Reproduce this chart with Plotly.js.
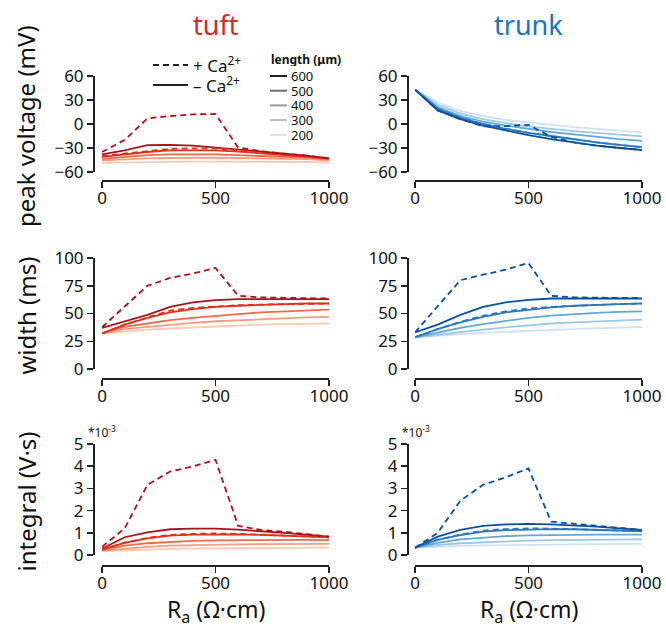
<!DOCTYPE html>
<html><head><meta charset="utf-8">
<script src="https://cdn.plot.ly/plotly-3.0.1.min.js"></script>
<style>html,body{margin:0;padding:0;background:#fff}</style>
</head><body><div id="plot" style="width:666px;height:630px"></div>
<script>
// ---- data ----
const Ra = [0,100,200,300,400,500,600,700,800,900,1000];
const lengths = [600,500,400,300,200];
const tuftColors = ['#a8141c','#e0301e','#f4694a','#f99c80','#fcc9b4'];
const trunkColors = ['#0b4f9a','#2b78bb','#64a7d6','#9dc8e4','#cfe2f3'];
const legendGrays = ['#222222','#6e6e6e','#9a9a9a','#bdbdbd','#dedede'];

// peak voltage (mV), without Ca (solid), by length 600..200
const tuftPeak = [
  [-38,-33,-26.5,-26,-27,-29.5,-31.5,-34,-37,-39.5,-43],
  [-41,-38,-35,-33,-33,-33,-34.5,-36.5,-38.5,-40.5,-43],
  [-43.5,-41,-39,-38,-38,-38,-39,-40,-41,-42,-44],
  [-45.5,-44,-43,-42.5,-42,-42,-42.5,-43,-43.5,-44,-45.5],
  [-48.5,-48,-47.5,-47,-47,-47,-47,-47,-47,-47.5,-48]
];
const tuftPeakCa600 = [-35,-20,7,10,12,12.5,-29.5,-34,-37,-39.5,-43];
const tuftPeakCa500 = [-40,-37,-33.5,-31,-30.5,-30.5,-33,-36,-38.5,-40.5,-43];
const trunkPeak = [
  [43,17,6,-2,-8,-14,-19,-23,-27,-30,-32.5],
  [43,19,8,0,-6,-11,-15,-19,-23,-26,-29],
  [43,21,10,3,-2,-6,-10,-13,-16,-19,-21],
  [43,24,13,6,1,-3,-6,-9,-11,-13.5,-15.5],
  [43,27,16,10,5,2,-1,-4,-6,-8.5,-10.5]
];
const trunkPeakCa600 = [43,17,6,-3,-2.5,-1,-16,-23,-27,-30,-32.5];
const trunkPeakCa500 = [43,19,8,0,-6,-11,-15,-19,-23,-26,-29];

// width (ms)
const tuftWidth = [
  [37,42.7,48.8,56,60,62,63,63,63,63,63],
  [32,40,46,51,54,56,57,58,58.5,59,59],
  [32,38,41,44,46,48,49.5,51,52,53,53.5],
  [32,36,38,40,41.5,43,44,45,46,46.5,47],
  [32,34,35.5,36.5,37.5,38.5,39,40,40.5,41,41]
];
const tuftWidthCa600 = [37.6,56,75,82,86,91,66,64.5,64,63.5,63.5];
const tuftWidthCa500 = [32,40,46.5,52.5,55,56.5,57.5,58,58.5,59,59];
const trunkWidth = [
  [33,40,48.8,56,60,62.3,63.5,63.5,63.5,63.5,63.5],
  [28.6,36,42,47,51,53.5,55.5,57,58,58.5,59],
  [28.6,33,37,40.5,43.5,46,48,49.5,50.5,51.5,52],
  [28.6,31,33.5,35.5,37.5,39.5,41,42,43,44,44.5],
  [28.6,30,31.5,32.5,33.5,34.5,35.3,36,36.7,37.3,37.8]
];
const trunkWidthCa600 = [33,56,80,85,89.5,95.5,66,64.5,64,64,64];
const trunkWidthCa500 = [28.6,36,42.5,48,52,54.5,56,57,58,58.5,59];

// integral (x10^-3 V·s)
const tuftInt = [
  [0.28,0.8,1.02,1.16,1.19,1.19,1.14,1.08,1.0,0.92,0.83],
  [0.25,0.55,0.75,0.87,0.92,0.94,0.93,0.91,0.88,0.85,0.8],
  [0.22,0.42,0.53,0.6,0.64,0.66,0.67,0.68,0.68,0.68,0.67],
  [0.2,0.3,0.37,0.42,0.45,0.47,0.48,0.49,0.49,0.5,0.5],
  [0.18,0.22,0.26,0.28,0.3,0.31,0.32,0.32,0.33,0.33,0.33]
];
const tuftIntCa600 = [0.37,1.2,3.16,3.76,3.99,4.29,1.31,1.13,1.05,0.95,0.83];
const tuftIntCa500 = [0.25,0.56,0.77,0.9,0.95,0.97,0.95,0.92,0.88,0.85,0.8];
const trunkInt = [
  [0.33,0.83,1.13,1.31,1.38,1.4,1.38,1.34,1.28,1.2,1.13],
  [0.33,0.68,0.9,1.05,1.12,1.16,1.17,1.16,1.14,1.11,1.07],
  [0.33,0.55,0.7,0.79,0.85,0.88,0.9,0.91,0.92,0.92,0.92],
  [0.33,0.45,0.53,0.58,0.62,0.65,0.67,0.68,0.69,0.7,0.7],
  [0.33,0.38,0.41,0.43,0.45,0.46,0.47,0.48,0.49,0.49,0.5]
];
const trunkIntCa600 = [0.33,1.0,2.45,3.16,3.5,3.9,1.5,1.4,1.3,1.2,1.13];
const trunkIntCa500 = [0.33,0.69,0.92,1.1,1.17,1.2,1.19,1.17,1.15,1.12,1.08];

const rowTicks = [[-60,-30,0,30,60],[0,25,50,75,100],[0,1,2,3,4,5]];
const rowRanges = [[-60,60],[0,100],[0,5]];
const xTicks = [0,500,1000];
const rowTitles = ['peak voltage (mV)','width (ms)','integral (V·s)'];
const colTitles = ['tuft','trunk'];
const colTitleColors = ['#d42a2a','#1a75bc'];

// ---- geometry (pixels) ----
const W = 666, H = 630;
const colX = [[102,329],[415,642]];
const colYLine = [93,407];
const rowY = [[76,172],[258,369],[444,555]];
const rowXLine = [180,378,565];

const panels = [
  {solid: tuftPeak, ca: [tuftPeakCa600, tuftPeakCa500], colors: tuftColors},
  {solid: trunkPeak, ca: [trunkPeakCa600, trunkPeakCa500], colors: trunkColors},
  {solid: tuftWidth, ca: [tuftWidthCa600, tuftWidthCa500], colors: tuftColors},
  {solid: trunkWidth, ca: [trunkWidthCa600, trunkWidthCa500], colors: trunkColors},
  {solid: tuftInt, ca: [tuftIntCa600, tuftIntCa500], colors: tuftColors},
  {solid: trunkInt, ca: [trunkIntCa600, trunkIntCa500], colors: trunkColors}
];

const font = '"Noto Sans", "Open Sans", sans-serif';
const traces = [];
const layout = {
  width: W, height: H, margin: {l:0,r:0,t:0,b:0},
  paper_bgcolor: '#fff', plot_bgcolor: 'rgba(0,0,0,0)',
  showlegend: false, font: {family: font, color: '#111', size: 15},
  annotations: [], shapes: []
};

panels.forEach((p, k) => {
  const r = Math.floor(k/2), c = k % 2;
  const id = k === 0 ? '' : String(k+1);
  const xa = 'x'+id, ya = 'y'+id;
  for (let i = lengths.length-1; i >= 0; i--) {
    traces.push({x: Ra, y: p.solid[i], xaxis: xa, yaxis: ya, mode: 'lines',
      line: {color: p.colors[i], width: 1.8}, hoverinfo: 'skip'});
  }
  for (let j = p.ca.length-1; j >= 0; j--) {
    traces.push({x: Ra, y: p.ca[j], xaxis: xa, yaxis: ya, mode: 'lines',
      line: {color: p.colors[j], width: 1.8, dash: '6px,4px'}, hoverinfo: 'skip'});
  }
  const axCommon = {showline: true, linecolor: '#222', linewidth: 1.5, ticks: 'outside',
    ticklen: 6, tickwidth: 1.5, tickcolor: '#222', showgrid: false, zeroline: false,
    tickfont: {size: 17, color: '#111', family: font}, fixedrange: true};
  layout['xaxis'+id] = Object.assign({}, axCommon, {
    domain: [colX[c][0]/W, colX[c][1]/W], range: [0,1000], tickvals: xTicks,
    anchor: 'free', position: 1 - rowXLine[r]/H, ticklabelstandoff: -4});
  layout['yaxis'+id] = Object.assign({}, axCommon, {
    domain: [1 - rowY[r][1]/H, 1 - rowY[r][0]/H], range: rowRanges[r], tickvals: rowTicks[r],
    anchor: 'free', position: colYLine[c]/W});
});

// titles
colTitles.forEach((t, c) => {
  layout.annotations.push({text: t, xref: 'paper', yref: 'paper', x: (colX[c][0]+colX[c][1])/2/W,
    y: 1 - 25/H, showarrow: false, font: {size: 27, color: colTitleColors[c], family: font},
    xanchor: 'center', yanchor: 'middle'});
  layout.annotations.push({text: 'R<sub>a</sub> (Ω·cm)', xref: 'paper', yref: 'paper',
    x: (colX[c][0]+colX[c][1])/2/W, y: 1 - 610/H, showarrow: false,
    font: {size: 23, color: '#111', family: font}, xanchor: 'center', yanchor: 'middle'});
  layout.annotations.push({text: '*10<sup>-3</sup>', xref: 'paper', yref: 'paper',
    x: (colYLine[c]-7)/W, y: 1 - 432/H, showarrow: false,
    font: {size: 12, color: '#111', family: font}, xanchor: 'left', yanchor: 'middle'});
});
rowTitles.forEach((t, r) => {
  layout.annotations.push({text: t, xref: 'paper', yref: 'paper', x: 26/W,
    y: 1 - ((rowY[r][0]+rowY[r][1])/2 + 2)/H, showarrow: false, textangle: -90,
    font: {size: 24, color: '#111', family: font}, xanchor: 'center', yanchor: 'middle'});
});

// Ca legend
const caLabels = ['+ Ca<sup>2+</sup>','– Ca<sup>2+</sup>'];
const caDash = ['6px,4px','solid'];
const caY = [65,85];
caLabels.forEach((t, i) => {
  layout.shapes.push({type: 'line', xref: 'paper', yref: 'paper', x0: 153/W, x1: 188/W,
    y0: 1 - caY[i]/H, y1: 1 - caY[i]/H, line: {color: '#222', width: 2.2, dash: caDash[i]}});
  layout.annotations.push({text: t, xref: 'paper', yref: 'paper', x: 192/W, y: 1 - caY[i]/H,
    showarrow: false, xanchor: 'left', yanchor: 'middle', height: 19, borderpad: 0,
    font: {size: 17, color: '#111', family: font}});
});
// length legend
layout.annotations.push({text: '<b>length (μm)</b>', xref: 'paper', yref: 'paper', x: 270/W, y: 1 - 59/H,
  showarrow: false, xanchor: 'left', yanchor: 'middle', height: 13, borderpad: 0,
  font: {size: 12, color: '#111', family: font}});
lengths.forEach((L, i) => {
  const yy = 76 + i*14.7;
  layout.shapes.push({type: 'line', xref: 'paper', yref: 'paper', x0: 270/W, x1: 287/W,
    y0: 1 - yy/H, y1: 1 - yy/H, line: {color: legendGrays[i], width: 2}});
  layout.annotations.push({text: String(L), xref: 'paper', yref: 'paper', x: 290/W, y: 1 - yy/H,
    showarrow: false, xanchor: 'left', yanchor: 'middle', height: 14, borderpad: 0,
    font: {size: 13, color: '#111', family: font}});
});

Plotly.newPlot('plot', traces, layout, {staticPlot: true, displayModeBar: false});
</script>
</body></html>
